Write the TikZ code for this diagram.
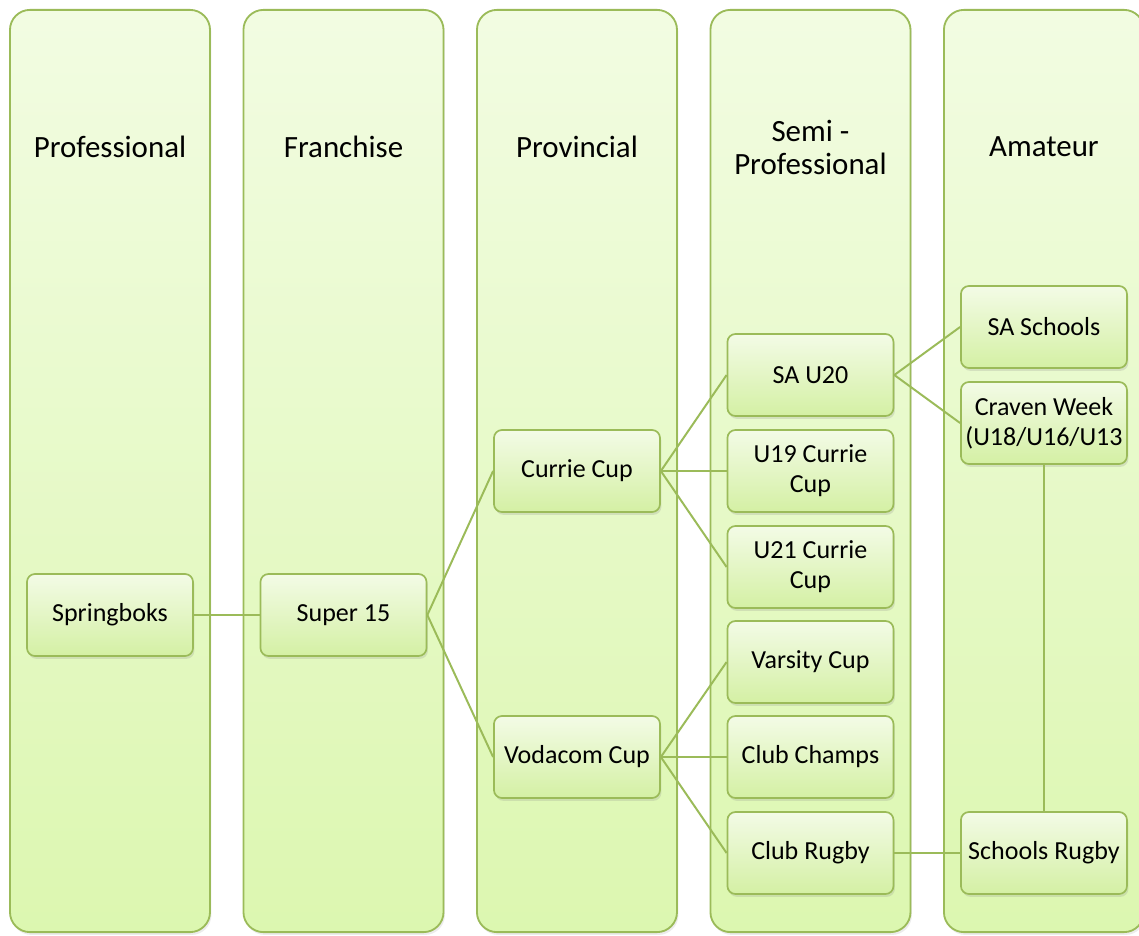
\documentclass[tikz,border=0pt]{standalone}
\usepackage{fontspec}
\setmainfont{Carlito}
\usetikzlibrary{positioning, shadows}
\definecolor{tierline}{RGB}{155,187,89}
\definecolor{tiertop}{RGB}{242,252,226}
\definecolor{tierbot}{RGB}{220,247,176}
\definecolor{clubtop}{RGB}{243,251,230}
\definecolor{clubbot}{RGB}{212,240,164}
\tikzset{
tier/.style={
    draw=tierline,
    line width=1.3pt,
    rounded corners=0.5cm,
    top color=tiertop,
    bottom color=tierbot,
    minimum width=5cm,
    minimum height=23.05cm,
    drop shadow={opacity=0.15, shadow xshift=1pt, shadow yshift=-2pt}
},
tiername/.style={
    font=\fontsize{22}{23.5}\selectfont,
    align=center
},
club/.style={
    draw=tierline,
    line width=1.2pt,
    rounded corners=0.2cm,
    top color=clubtop,
    bottom color=clubbot,
    minimum width=4.15cm,
    minimum height=2.05cm,
    inner sep=1pt,
    align=center,
    font=\fontsize{18.5}{21.3}\selectfont,
    drop shadow={opacity=0.2, shadow xshift=1pt, shadow yshift=-2pt}
},
link/.style={
    draw=tierline,
    line width=1.4pt
}
}

\begin{document}
\begin{tikzpicture}[
    x=0.025cm, y=-0.025cm,
    node distance=0.79cm
]

\fill[white] (0,0) rectangle (1139,935);
\useasboundingbox (0,0) rectangle (1139,935);

% TIERS
\node[tier] (prof) at (110,471) {};
\node[tier, right=of prof] (fran) {};
\node[tier, right=of fran] (prov) {};
\node[tier, right=of prov] (semi) {};
\node[tier, right=of semi] (amat) {};

\node[tiername] (profname) at (prof.center |- 0,147) {Professional};
\node[tiername] (franname) at (fran.center |- 0,147) {Franchise};
\node[tiername] (provname) at (prov.center |- 0,147) {Provincial};
\node[tiername] (seminame) at (semi.center |- 0,147) {Semi -\\Professional};
\node[tiername] (amatname) at (amat.center |- 0,147) {Amateur};

% COMPETITIONS
\node[club] (boks) at (prof.center |- 0,615) {Springboks};
\node[club] (super) at (fran.center |- 0,615) {Super 15};
\node[club] (currie) at (prov.center |- 0,471) {Currie Cup};
\node[club] (vodacom) at (prov.center |- 0,757) {Vodacom Cup};
\node[club] (sau20) at (semi.center |- 0,375) {SA U20};
\node[club] (u19) at (semi.center |- 0,471) {U19 Currie\\Cup};
\node[club] (u21) at (semi.center |- 0,567) {U21 Currie\\Cup};
\node[club] (varsity) at (semi.center |- 0,662) {Varsity Cup};
\node[club] (champs) at (semi.center |- 0,757) {Club Champs};
\node[club] (clubrugby) at (semi.center |- 0,853) {Club Rugby};
\node[club] (saschools) at (amat.center |- 0,327) {SA Schools};
\node[club] (craven) at (amat.center |- 0,423) {Craven Week\\(U18/U16/U13};
\node[club] (schools) at (amat.center |- 0,853) {Schools Rugby};

% LINKS
\draw[link] (boks.east) -- (super.west);
\draw[link] (super.east) -- (currie.west);
\draw[link] (super.east) -- (vodacom.west);
\draw[link] (currie.east) -- (sau20.west);
\draw[link] (currie.east) -- (u19.west);
\draw[link] (currie.east) -- (u21.west);
\draw[link] (vodacom.east) -- (varsity.west);
\draw[link] (vodacom.east) -- (champs.west);
\draw[link] (vodacom.east) -- (clubrugby.west);
\draw[link] (sau20.east) -- (saschools.west);
\draw[link] (sau20.east) -- (craven.west);
\draw[link] (clubrugby.east) -- (schools.west);
\draw[link] (craven.south) -- (schools.north);

\end{tikzpicture}
\end{document}
